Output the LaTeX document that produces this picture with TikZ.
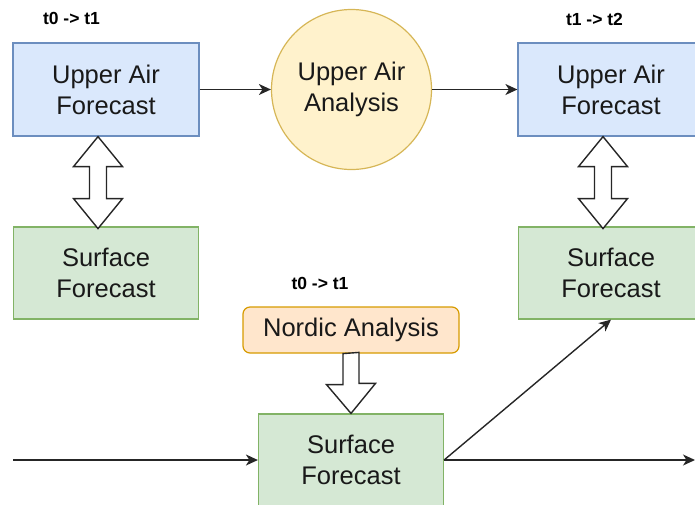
\documentclass[tikz,border=0pt]{standalone}
\usepackage{fontspec}
\setmainfont{Liberation Sans}
\usetikzlibrary{arrows.meta,calc}
\definecolor{bluefill}{HTML}{DAE8FC}
\definecolor{blueline}{HTML}{6C8EBF}
\definecolor{greenfill}{HTML}{D5E8D4}
\definecolor{greenline}{HTML}{82B366}
\definecolor{yelfill}{HTML}{FFF2CC}
\definecolor{yelline}{HTML}{D6B656}
\definecolor{orfill}{HTML}{FFE6CC}
\definecolor{orline}{HTML}{D79B00}
\tikzset{
  boxtext/.style={font=\fontsize{25.5}{31}\selectfont, align=center, text=black!90},
  bluebox/.style={boxtext, draw=blueline, fill=bluefill, line width=1.2pt, minimum width=186pt, minimum height=93pt, inner sep=0pt},
  greenbox/.style={boxtext, draw=greenline, fill=greenfill, line width=1.2pt, minimum width=185pt, minimum height=92pt, inner sep=0pt},
  circbox/.style={boxtext, circle, draw=yelline, fill=yelfill, line width=1.2pt, minimum size=160pt, inner sep=0pt},
  orbox/.style={boxtext, rounded corners=7pt, draw=orline, fill=orfill, line width=1.2pt, minimum width=216pt, minimum height=46pt, inner sep=0pt},
  steplabel/.style={font=\bfseries\fontsize{17.5}{20}\selectfont, inner sep=0pt},
  flow/.style={line width=1.4pt, draw=black!85, -{Stealth[length=12pt,width=11pt,inset=3.5pt]}},
  hollow/.style={line width=1.4pt, draw=black!85, fill=white, line join=miter}
}
\begin{document}
\begin{tikzpicture}[x=1pt,y=-1pt]
\useasboundingbox (0,0) rectangle (695,504);
% labels
\node[steplabel] (l1) at (71.5,18) {t0 -> t1};
\node[steplabel] (l2) at (594.5,19) {t1 -> t2};
\node[steplabel] (l3) at (320,283) {t0 -> t1};
% nodes
\node[bluebox] (uaf1) at (106,89.5) {Upper Air\\Forecast};
\node[circbox] (uaa) at (351.5,89.5) {Upper Air\\Analysis};
\node[bluebox] (uaf2) at (611,89.5) {Upper Air\\Forecast};
\node[greenbox] (sf1) at (106,273) {Surface\\Forecast};
\node[greenbox] (sf2) at (611,273) {Surface\\Forecast};
\node[orbox] (na) at (351,330) {Nordic Analysis};
\node[greenbox] (sf3) at (351,460) {Surface\\Forecast};
\coordinate (inL) at (13,460);
\coordinate (outR) at (695,460);
% arrows
\draw[flow] (uaf1.east) -- (uaa.west);
\draw[flow] (uaa.east) -- (uaf2.west);
\draw[flow] (inL) -- (sf3.west);
\draw[flow] (sf3.east) -- (outR);
\draw[flow] (sf3.east) -- (sf2.south);
% hollow double arrows
\draw[hollow] ($(uaf1.south)+(-8,0)$) -- ++(24.5,30) -- ++(-16,0) -- ++(0,32) -- ++(16,0)
  -- ++(-24.5,30) -- ++(-24.5,-30) -- ++(16,0) -- ++(0,-32) -- ++(-16,0) -- cycle;
\draw[hollow] ($(uaf2.south)+(-8,0)$) -- ++(24.5,30) -- ++(-16,0) -- ++(0,32) -- ++(16,0)
  -- ++(-24.5,30) -- ++(-24.5,-30) -- ++(16,0) -- ++(0,-32) -- ++(-16,0) -- cycle;
% hollow down arrow
\draw[hollow] ($(na.south)+(-8,0)$) -- ++(0,31) -- ++(-16.5,0) -- ($(sf3.north)$)
  -- ++(24.5,-30) -- ++(-16.5,0) -- ++(0,-31) -- cycle;
\end{tikzpicture}
\end{document}
